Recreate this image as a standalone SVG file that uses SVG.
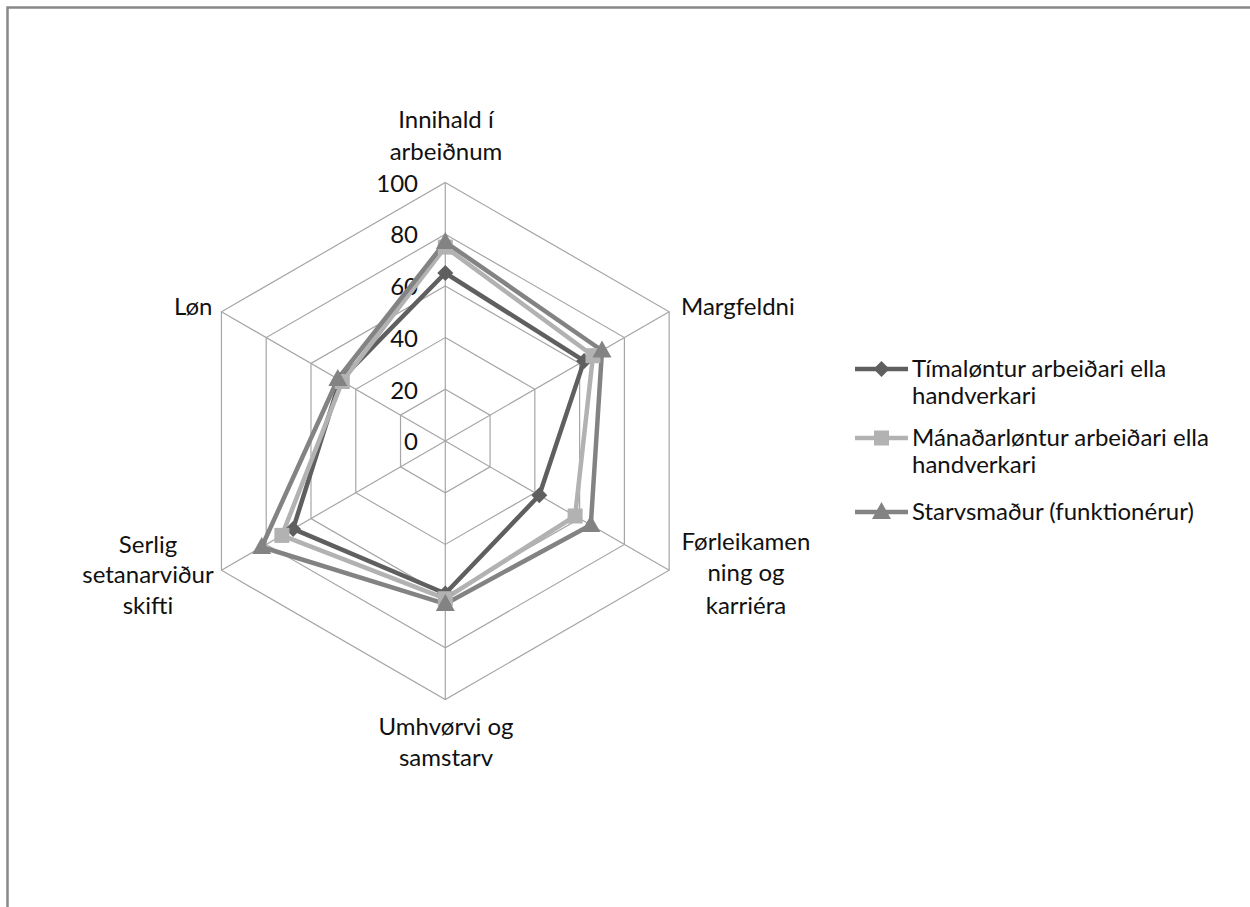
<svg xmlns="http://www.w3.org/2000/svg" xmlns:xlink="http://www.w3.org/1999/xlink" width="1250" height="907" viewBox="0 0 1250 907">
<style>
text{font-family:Lato,"Liberation Sans",sans-serif;font-size:24px;fill:#111}
.c{text-anchor:middle}
.r{text-anchor:end}
.grid{fill:none;stroke:#a6a6a6;stroke-width:1.2}
.s1{fill:none;stroke:#5f5f5f;stroke-width:4.5;stroke-linejoin:round}
.s2{fill:none;stroke:#b2b2b2;stroke-width:4.5;stroke-linejoin:round}
.s3{fill:none;stroke:#838383;stroke-width:4.5;stroke-linejoin:round}
</style>
<defs>
<path id="dia" d="M0,-8 L8,0 L0,8 L-8,0Z" fill="#5f5f5f"/>
<rect id="sq" x="-7.5" y="-7.5" width="15" height="15" fill="#b2b2b2"/>
<path id="tri" d="M0,-10 L9.5,7 L-9.5,7Z" fill="#838383"/>
</defs>
<rect x="0" y="0" width="1250" height="907" fill="#fff"/>
<path d="M7.5,907 V7.5 H1250" fill="none" stroke="#888" stroke-width="2.5"/>
<g id="grid">
<polygon class="grid" points="445.3,389.3 490.07,415.15 490.07,466.85 445.3,492.7 400.53,466.85 400.53,415.15"/>
<polygon class="grid" points="445.3,337.6 534.84,389.3 534.84,492.7 445.3,544.4 355.76,492.7 355.76,389.3"/>
<polygon class="grid" points="445.3,285.9 579.62,363.45 579.62,518.55 445.3,596.1 310.98,518.55 310.98,363.45"/>
<polygon class="grid" points="445.3,234.2 624.39,337.6 624.39,544.4 445.3,647.8 266.21,544.4 266.21,337.6"/>
<polygon class="grid" points="445.3,182.5 669.16,311.75 669.16,570.25 445.3,699.5 221.44,570.25 221.44,311.75"/>
<path class="grid" d="M445.3,441 L445.3,182.5 M445.3,441 L669.16,311.75 M445.3,441 L669.16,570.25 M445.3,441 L445.3,699.5 M445.3,441 L221.44,570.25 M445.3,441 L221.44,311.75"/>
</g>
<g id="scale">
<text class="r" x="418" y="191.7">100</text>
<text class="r" x="418" y="243.4">80</text>
<text class="r" x="418" y="295.1">60</text>
<text class="r" x="418" y="346.8">40</text>
<text class="r" x="418" y="398.5">20</text>
<text class="r" x="418" y="450.2">0</text>
</g>
<g id="axis-innihald"><text class="c" x="446" y="128">Innihald í</text><text class="c" x="446" y="160">arbeiðnum</text></g>
<g id="axis-margfeldni"><text x="681" y="315">Margfeldni</text></g>
<g id="axis-forleikamenning"><text class="c" x="746" y="550">Førleikamen</text><text class="c" x="746" y="581">ning og</text><text class="c" x="746" y="614">karriéra</text></g>
<g id="axis-umhvorvi"><text class="c" x="446" y="735">Umhvørvi og</text><text class="c" x="446" y="766">samstarv</text></g>
<g id="axis-serlig"><text class="c" x="148" y="553">Serlig</text><text class="c" x="148" y="583">setanarviður</text><text class="c" x="148" y="614">skifti</text></g>
<g id="axis-lon"><text x="174" y="315">Løn</text></g>
<g id="connectors">
<polygon class="s1" points="445.3,273.0 584.1,360.9 539.3,495.3 445.3,593.5 293.1,528.9 340.1,380.3"/>
<polygon class="s2" points="445.3,247.1 593.0,355.7 575.1,516.0 445.3,598.7 281.9,535.4 342.3,381.5"/>
<polygon class="s3" points="445.3,242.0 602.0,350.5 590.8,525.0 445.3,603.9 261.7,547.0 337.8,379.0"/>
</g>
<g id="series1-markers">
<use xlink:href="#dia" x="445.3" y="273.0"/><use xlink:href="#dia" x="584.1" y="360.9"/><use xlink:href="#dia" x="539.3" y="495.3"/><use xlink:href="#dia" x="445.3" y="593.5"/><use xlink:href="#dia" x="293.1" y="528.9"/><use xlink:href="#dia" x="340.1" y="380.3"/>
</g>
<g id="series2-markers">
<use xlink:href="#sq" x="445.3" y="247.1"/><use xlink:href="#sq" x="593.0" y="355.7"/><use xlink:href="#sq" x="575.1" y="516.0"/><use xlink:href="#sq" x="445.3" y="598.7"/><use xlink:href="#sq" x="281.9" y="535.4"/><use xlink:href="#sq" x="342.3" y="381.5"/>
</g>
<g id="series3-markers">
<use xlink:href="#tri" x="445.3" y="242.0"/><use xlink:href="#tri" x="602.0" y="350.5"/><use xlink:href="#tri" x="590.8" y="525.0"/><use xlink:href="#tri" x="445.3" y="603.9"/><use xlink:href="#tri" x="261.7" y="547.0"/><use xlink:href="#tri" x="337.8" y="379.0"/>
</g>
<g id="legend">
<line class="s1" x1="855" y1="369" x2="908" y2="369"/><use xlink:href="#dia" x="881.5" y="369"/>
<text x="912" y="377">Tímaløntur arbeiðari ella</text><text x="912" y="404">handverkari</text>
<line class="s2" x1="855" y1="438" x2="908" y2="438"/><use xlink:href="#sq" x="881.5" y="438"/>
<text x="912" y="446">Mánaðarløntur arbeiðari ella</text><text x="912" y="473">handverkari</text>
<line class="s3" x1="855" y1="512" x2="908" y2="512"/><use xlink:href="#tri" x="881.5" y="512"/>
<text x="912" y="520">Starvsmaður (funktionérur)</text>
</g>
</svg>
